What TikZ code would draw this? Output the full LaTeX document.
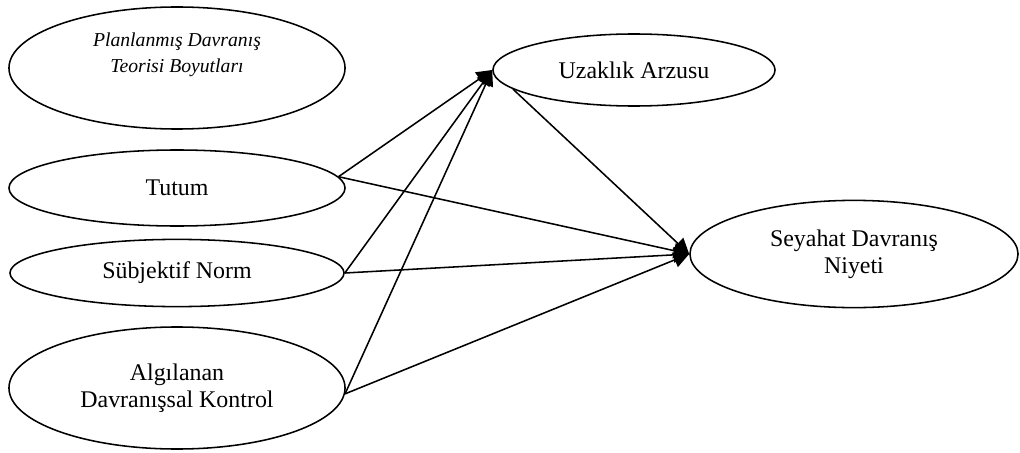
\documentclass[tikz,border=0pt]{standalone}
\usepackage{fontspec}
\setmainfont{Liberation Serif}
\usepackage{tikz}
\usetikzlibrary{shapes.geometric,arrows.meta}

\begin{document}
\begin{tikzpicture}[x=0.025cm,y=-0.025cm,
	oval/.style={shape=ellipse,draw=black,line width=1.1pt,inner sep=0pt,align=center,font=\fontsize{17}{19.5}\selectfont},
	arr/.style={-{Triangle[length=11pt,width=11pt]},line width=1.1pt}]
	\useasboundingbox (0,0) rectangle (1020,453);

	\node[oval,minimum width=8.4cm,minimum height=3.05cm,font=\fontsize{14}{17.8}\selectfont\itshape] (tpb) at (177,68) {Planlanmış Davranış\\Teorisi Boyutları\\[4pt]};
	\node[oval,minimum width=8.4cm,minimum height=1.9cm] (tutum) at (177,188) {Tutum};
	\node[oval,minimum width=8.35cm,minimum height=1.68cm] (norm) at (177,273) {Sübjektif Norm};
	\node[oval,minimum width=8.4cm,minimum height=3.05cm] (kontrol) at (177,388) {Algılanan\\Davranışsal Kontrol};
	\node[oval,minimum width=7.05cm,minimum height=1.8cm] (arzu) at (634,70) {Uzaklık Arzusu};
	\node[oval,minimum width=8.2cm,minimum height=2.68cm] (niyet) at (854,254) {Seyahat Davranış\\Niyeti};

	\path[arr] (tutum.4) edge (arzu.west);
	\path[arr] (norm.east) edge (arzu.west);
	\path[arr] (kontrol.-2) edge (arzu.west);
	\path[arr] (tutum.4) edge (niyet.west);
	\path[arr] (norm.east) edge (niyet.west);
	\path[arr] (kontrol.-2) edge (niyet.west);
	\path[arr] (arzu.189) edge (niyet.west);
\end{tikzpicture}
\end{document}
